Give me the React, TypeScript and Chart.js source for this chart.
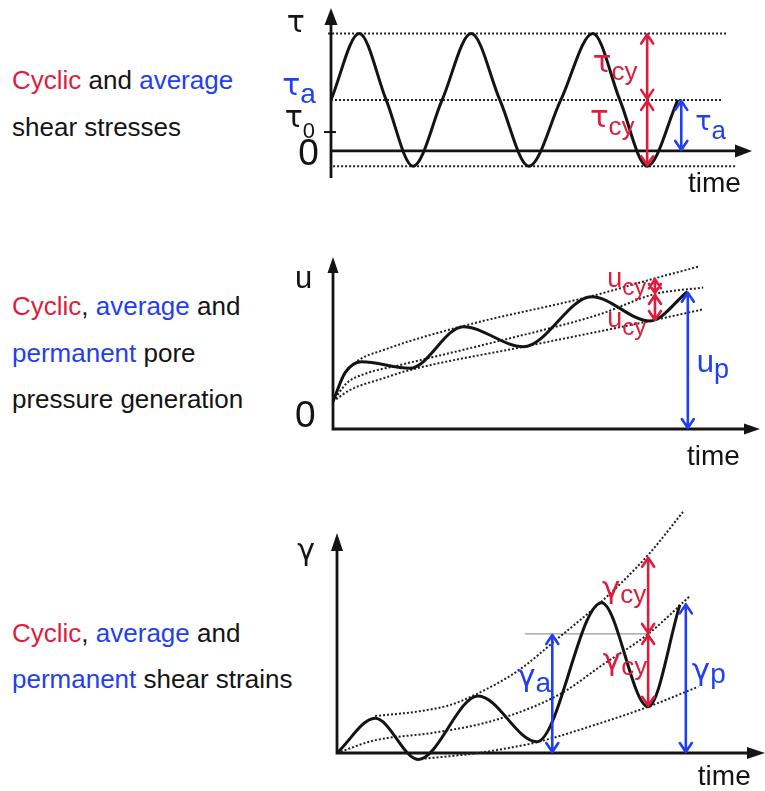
import React, { useEffect, useRef } from "react";
import { Chart, registerables } from "chart.js";

Chart.register(...registerables);

const RED = "#dc1e3c";
const BLUE = "#1f3ff0";
const INK = "#141414";
const DOT = "#222222";
const FONT = "'Liberation Sans', Arial, sans-serif";
const GREEK = "'DejaVu Sans', 'Liberation Sans', sans-serif";

// ---------------- Panel 1: cyclic and average shear stresses ----------------
const tauTime = [0, 6.7, 13.1, 19.5, 26.4, 33.3, 40.1, 47.0, 54.6, 62.2, 68.6, 75.1, 82.4];
const tauStress = [1, 2.3, 1, -0.3, 1, 2.3, 1, -0.3, 1, 2.3, 1, -0.3, 1];
const TAU_MAX = 2.3;
const TAU_AVG = 1;
const TAU_MIN = -0.3;
const TAU_0 = 0.37;
const tauMaxLineX = [-0.7, 94.3];
const tauAvgLineX = [0, 92.9];
const tauMinLineX = [0.5, 96.0];
const TAU_CY_TIME = 75.1;
const TAU_A_TIME = 83.2;

// ---------------- Panel 2: pore pressure ----------------
const uTime = [0, 2.8, 6.7, 18.0, 30.5, 44.6, 60.6, 74.2, 83.0];
const uPressure = [1.6, 3.26, 3.91, 3.53, 5.95, 4.78, 7.69, 6.28, 7.98];
const uUpperTime = [0, 2.4, 5.5, 11.8, 30.5, 60.6, 75.4, 85.6];
const uUpper = [1.6, 3.04, 3.91, 4.59, 5.99, 7.73, 8.76, 9.44];
const uMidTime = [0, 3.2, 7.9, 15.7, 39.1, 62.5, 75.4, 86.7];
const uMid = [1.6, 2.66, 3.24, 3.72, 5.13, 6.67, 7.85, 8.22];
const uLowerTime = [0, 4.0, 11.8, 18.0, 44.6, 74.2, 86.7];
const uLower = [1.6, 2.27, 2.95, 3.43, 4.78, 6.28, 6.96];
const U_CY_TIME = 75.4;
const U_CY_TOP = 8.76;
const U_CY_MID = 7.85;
const U_CY_BOT = 6.28;
const U_P_TIME = 83.1;
const U_P_VALUE = 7.98;

// ---------------- Panel 3: shear strains ----------------
const gTime = [0, 8.9, 19.0, 33.0, 46.7, 61.8, 72.7, 80.1];
const gStrain = [0, 1.58, -0.29, 2.59, 0.51, 6.83, 2.1, 6.73];
const gUpperTime = [8.9, 18.6, 26.4, 32.6, 42.0, 52.1, 61.8, 72.7, 80.9];
const gUpper = [1.68, 1.88, 2.18, 2.68, 3.7, 5.29, 6.88, 9.0, 10.97];
const gMidTime = [0, 8.5, 22.5, 34.2, 45.9, 53.7, 61.4, 72.7, 82.5];
const gMid = [0, 0.56, 0.92, 1.35, 2.1, 2.86, 3.92, 5.41, 7.14];
const gLowerTime = [18.6, 31.8, 35.0, 46.7, 61.4, 72.7, 84.4];
const gLower = [-0.29, -0.03, 0.06, 0.49, 1.35, 2.1, 3.01];
const G_CY_TIME = 72.7;
const G_CY_TOP = 8.92;
const G_CY_MID = 5.41;
const G_CY_BOT = 2.1;
const G_A_TIME = 50.3;
const G_REF_FROM = 43.9;
const G_P_TIME = 81.5;
const G_P_VALUE = 6.8;

// ---------------- Left-hand captions ----------------
type Part = { t: string; c: string };
const captionLines: { baseline: number; parts: Part[] }[] = [
  { baseline: 89, parts: [{ t: "Cyclic", c: RED }, { t: " and ", c: INK }, { t: "average", c: BLUE }] },
  { baseline: 136, parts: [{ t: "shear stresses", c: INK }] },
  { baseline: 315, parts: [{ t: "Cyclic", c: RED }, { t: ", ", c: INK }, { t: "average", c: BLUE }, { t: " and", c: INK }] },
  { baseline: 362, parts: [{ t: "permanent", c: BLUE }, { t: " pore", c: INK }] },
  { baseline: 408, parts: [{ t: "pressure generation", c: INK }] },
  { baseline: 642, parts: [{ t: "Cyclic", c: RED }, { t: ", ", c: INK }, { t: "average", c: BLUE }, { t: " and", c: INK }] },
  { baseline: 688, parts: [{ t: "permanent", c: BLUE }, { t: " shear strains", c: INK }] },
];

type Arrow = { x: number; y1: number; y2: number; color: string };
type Label = {
  x: number; y: number; main: string; sub?: string; color: string;
  size: number; subSize?: number; subDy?: number; greek?: boolean;
};
type Spec = {
  yAxisFrom: number; yAxisTo: number; xAxisTo: number; head: [number, number];
  ticks?: number[]; arrows: Arrow[]; labels: Label[];
};

const pts = (xs: number[], ys: number[]) => xs.map((x, i) => ({ x, y: ys[i] }));

function diagramPlugin(spec: Spec) {
  return {
    id: "diagram",
    beforeDatasetsDraw(chart: any) {
      const ctx = chart.ctx as CanvasRenderingContext2D;
      const xs = chart.scales.x, ys = chart.scales.y;
      const x0 = xs.getPixelForValue(0);
      const y0 = ys.getPixelForValue(0);
      const yTop = ys.getPixelForValue(spec.yAxisTo);
      const yBot = ys.getPixelForValue(spec.yAxisFrom);
      const xEnd = xs.getPixelForValue(spec.xAxisTo);
      const [hw, hl] = spec.head;
      ctx.save();
      ctx.strokeStyle = INK;
      ctx.fillStyle = INK;
      ctx.lineWidth = 2.8;
      ctx.beginPath();
      ctx.moveTo(x0, yBot);
      ctx.lineTo(x0, yTop + hl - 2);
      ctx.moveTo(x0 - 1.4, y0);
      ctx.lineTo(xEnd - hl + 2, y0);
      ctx.stroke();
      ctx.beginPath();
      ctx.moveTo(x0, yTop);
      ctx.lineTo(x0 - hw / 2, yTop + hl);
      ctx.lineTo(x0 + hw / 2, yTop + hl);
      ctx.closePath();
      ctx.fill();
      ctx.beginPath();
      ctx.moveTo(xEnd, y0);
      ctx.lineTo(xEnd - hl, y0 - hw / 2);
      ctx.lineTo(xEnd - hl, y0 + hw / 2);
      ctx.closePath();
      ctx.fill();
      (spec.ticks || []).forEach((t) => {
        const ty = ys.getPixelForValue(t);
        ctx.lineWidth = 2;
        ctx.beginPath();
        ctx.moveTo(x0 - 7, ty);
        ctx.lineTo(x0 + 5, ty);
        ctx.stroke();
      });
      ctx.restore();
    },
    afterDatasetsDraw(chart: any) {
      const ctx = chart.ctx as CanvasRenderingContext2D;
      const xs = chart.scales.x, ys = chart.scales.y;
      ctx.save();
      spec.arrows.forEach((a) => {
        const x = xs.getPixelForValue(a.x);
        const ya = ys.getPixelForValue(a.y1);
        const yb = ys.getPixelForValue(a.y2);
        const top = Math.min(ya, yb), bot = Math.max(ya, yb);
        ctx.strokeStyle = a.color;
        ctx.lineWidth = 2.6;
        ctx.lineCap = "round";
        ctx.lineJoin = "round";
        ctx.beginPath();
        ctx.moveTo(x, top + 1);
        ctx.lineTo(x, bot - 1);
        ctx.moveTo(x - 6, top + 10);
        ctx.lineTo(x, top + 1);
        ctx.lineTo(x + 6, top + 10);
        ctx.moveTo(x - 6, bot - 10);
        ctx.lineTo(x, bot - 1);
        ctx.lineTo(x + 6, bot - 10);
        ctx.stroke();
      });
      spec.labels.forEach((l) => {
        const px = xs.getPixelForValue(l.x);
        const py = ys.getPixelForValue(l.y);
        ctx.fillStyle = l.color;
        ctx.textAlign = "left";
        ctx.textBaseline = "alphabetic";
        ctx.font = `${l.size}px ${l.greek ? GREEK : FONT}`;
        ctx.fillText(l.main, px, py);
        if (l.sub) {
          const w = ctx.measureText(l.main).width;
          ctx.font = `${l.subSize || l.size}px ${FONT}`;
          ctx.fillText(l.sub, px + w, py + (l.subDy || 0));
        }
      });
      ctx.restore();
    },
  };
}

const curve = (data: any[]) => ({
  data, borderColor: INK, borderWidth: 3, pointRadius: 0, fill: false,
  cubicInterpolationMode: "monotone" as const, clip: false as const,
});
const dotted = (data: any[], color = DOT) => ({
  data, borderColor: color, borderWidth: 2, borderDash: [2, 2], pointRadius: 0,
  fill: false, cubicInterpolationMode: "monotone" as const, clip: false as const,
});

function makeConfig(datasets: any[], pad: any, yMin: number, yMax: number, spec: Spec) {
  return {
    type: "line" as const,
    data: { datasets },
    options: {
      animation: false as const,
      responsive: false,
      devicePixelRatio: 1,
      layout: { padding: pad },
      events: [],
      plugins: { legend: { display: false }, tooltip: { enabled: false } },
      scales: {
        x: { type: "linear" as const, min: 0, max: 100, display: false },
        y: { type: "linear" as const, min: yMin, max: yMax, display: false },
      },
    },
    plugins: [diagramPlugin(spec)],
  };
}

function Panel({ left, top, width, height, build }: any) {
  const ref = useRef<HTMLCanvasElement>(null);
  useEffect(() => {
    const chart = new Chart(ref.current as HTMLCanvasElement, build());
    return () => chart.destroy();
  }, []);
  return (
    <canvas ref={ref} width={width} height={height}
      style={{ position: "absolute", left, top, width, height }} />
  );
}

const buildPanel1 = () =>
  makeConfig(
    [
      curve(pts(tauTime, tauStress)),
      dotted(pts(tauMaxLineX, [TAU_MAX, TAU_MAX])),
      dotted(pts(tauAvgLineX, [TAU_AVG, TAU_AVG])),
      dotted(pts(tauMinLineX, [TAU_MIN, TAU_MIN])),
    ],
    { left: 71, right: 13, top: 8, bottom: 22 },
    -0.53, 2.8,
    {
      yAxisFrom: -0.53, yAxisTo: 2.8, xAxisTo: 100, head: [13, 17], ticks: [TAU_0],
      arrows: [
        { x: TAU_CY_TIME, y1: TAU_MAX, y2: TAU_AVG, color: RED },
        { x: TAU_CY_TIME, y1: TAU_AVG, y2: TAU_MIN, color: RED },
        { x: TAU_A_TIME, y1: TAU_AVG, y2: 0, color: BLUE },
      ],
      labels: [
        { x: -10.5, y: 2.33, main: "τ", color: INK, size: 30, greek: true },
        { x: -11.6, y: 1.1, main: "τ", sub: "a", color: BLUE, size: 30, subSize: 28, subDy: 8, greek: true },
        { x: -11.0, y: 0.47, main: "τ", sub: "0", color: INK, size: 30, subSize: 22, subDy: 11, greek: true },
        { x: -7.8, y: -0.275, main: "0", color: INK, size: 37 },
        { x: 84.8, y: -0.8, main: "time", color: INK, size: 28 },
        { x: 62.2, y: 1.546, main: "τ", sub: "cy", color: RED, size: 31, subSize: 26, subDy: 8, greek: true },
        { x: 61.5, y: 0.47, main: "τ", sub: "cy", color: RED, size: 31, subSize: 26, subDy: 8, greek: true },
        { x: 86.5, y: 0.41, main: "τ", sub: "a", color: BLUE, size: 27, subSize: 26, subDy: 9, greek: true },
      ],
    }
  );

const buildPanel2 = () =>
  makeConfig(
    [
      curve(pts(uTime, uPressure)),
      dotted(pts(uUpperTime, uUpper)),
      dotted(pts(uMidTime, uMid)),
      dotted(pts(uLowerTime, uLower)),
    ],
    { left: 73, right: 5, top: 17, bottom: 51 },
    0, 10,
    {
      yAxisFrom: 0, yAxisTo: 10, xAxisTo: 100, head: [11, 16],
      arrows: [
        { x: U_CY_TIME, y1: U_CY_TOP, y2: U_CY_MID, color: RED },
        { x: U_CY_TIME, y1: U_CY_MID, y2: U_CY_BOT, color: RED },
        { x: U_P_TIME, y1: U_P_VALUE, y2: 0, color: BLUE },
      ],
      labels: [
        { x: -8.9, y: 8.2, main: "u", color: INK, size: 31 },
        { x: -8.9, y: 0.12, main: "0", color: INK, size: 37 },
        { x: 82.9, y: -2.09, main: "time", color: INK, size: 28 },
        { x: 64.2, y: 8.26, main: "u", sub: "cy", color: RED, size: 27, subSize: 24, subDy: 8 },
        { x: 64.2, y: 5.93, main: "u", sub: "cy", color: RED, size: 27, subSize: 24, subDy: 8 },
        { x: 85.2, y: 3.31, main: "u", sub: "p", color: BLUE, size: 31, subSize: 27, subDy: 6 },
      ],
    }
  );

const buildPanel3 = () =>
  makeConfig(
    [
      curve(pts(gTime, gStrain)),
      dotted(pts(gUpperTime, gUpper)),
      dotted(pts(gMidTime, gMid)),
      dotted(pts(gLowerTime, gLower)),
      {
        data: pts([G_REF_FROM, G_CY_TIME], [G_CY_MID, G_CY_MID]),
        borderColor: "#9a9a9a", borderWidth: 1.2, pointRadius: 0, fill: false, clip: false,
      },
    ],
    { left: 77, right: 0, top: 5, bottom: 38 },
    0, 11.27,
    {
      yAxisFrom: 0, yAxisTo: 10, xAxisTo: 100, head: [12, 18],
      arrows: [
        { x: G_CY_TIME, y1: G_CY_TOP, y2: G_CY_MID, color: RED },
        { x: G_CY_TIME, y1: G_CY_MID, y2: G_CY_BOT, color: RED },
        { x: G_A_TIME, y1: G_CY_MID, y2: 0, color: BLUE },
        { x: G_P_TIME, y1: G_P_VALUE, y2: 0, color: BLUE },
      ],
      labels: [
        { x: -9.3, y: 8.77, main: "γ", color: INK, size: 30, greek: true },
        { x: 84.3, y: -1.45, main: "time", color: INK, size: 28 },
        { x: 61.9, y: 7.05, main: "γ", sub: "cy", color: RED, size: 31, subSize: 26, subDy: 5, greek: true },
        { x: 62.1, y: 3.77, main: "γ", sub: "cy", color: RED, size: 31, subSize: 26, subDy: 5, greek: true },
        { x: 42.1, y: 3.05, main: "γ", sub: "a", color: BLUE, size: 31, subSize: 28, subDy: 6, greek: true },
        { x: 82.9, y: 3.32, main: "γ", sub: "p", color: BLUE, size: 31, subSize: 28, subDy: 3, greek: true },
      ],
    }
  );

export default function App() {
  return (
    <div style={{ position: "absolute", left: 0, top: 0, width: 765, height: 791, background: "#fff", overflow: "hidden" }}>
      {captionLines.map((line, i) => (
        <div key={i} style={{
          position: "absolute", left: 12, top: line.baseline - 22, fontFamily: FONT,
          fontSize: 26, lineHeight: "26px", whiteSpace: "nowrap",
        }}>
          {line.parts.map((p, j) => <span key={j} style={{ color: p.c }}>{p.t}</span>)}
        </div>
      ))}
      <Panel left={260} top={0} width={505} height={200} build={buildPanel1} />
      <Panel left={260} top={240} width={505} height={240} build={buildPanel2} />
      <Panel left={260} top={500} width={505} height={291} build={buildPanel3} />
    </div>
  );
}
